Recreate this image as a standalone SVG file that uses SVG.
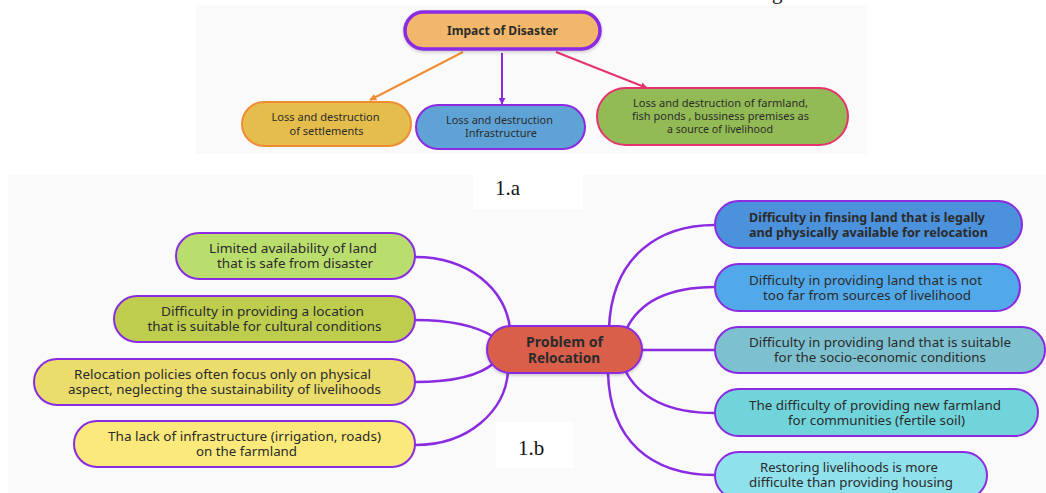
<svg xmlns="http://www.w3.org/2000/svg" width="1046" height="493" viewBox="0 0 1046 493">
<defs>
<style>
.t{font-family:"Noto Sans","Open Sans","Liberation Sans",sans-serif;font-size:12px;fill:#2b2b2b;text-anchor:middle}
.ts{font-family:"Noto Sans","Open Sans","Liberation Sans",sans-serif;font-size:11.5px;fill:#2b2b2b;text-anchor:middle}
.b{font-weight:bold}
.lab{font-family:"Liberation Serif","Times New Roman",serif;font-size:21px;fill:#111}
.n{stroke:#8a2be2;stroke-width:2}
.c{fill:none;stroke:#8a2be2;stroke-width:2.5;stroke-linecap:round}
</style>
<marker id="ao" viewBox="0 0 10 10" refX="9" refY="5" markerWidth="7" markerHeight="7" orient="auto" markerUnits="userSpaceOnUse"><path d="M0,0 L10,5 L0,10 z" fill="#f08c33"/></marker>
<marker id="ap" viewBox="0 0 10 10" refX="9" refY="5" markerWidth="7" markerHeight="7" orient="auto" markerUnits="userSpaceOnUse"><path d="M0,0 L10,5 L0,10 z" fill="#8a2be2"/></marker>
<marker id="ar" viewBox="0 0 10 10" refX="9" refY="5" markerWidth="7" markerHeight="7" orient="auto" markerUnits="userSpaceOnUse"><path d="M0,0 L10,5 L0,10 z" fill="#e6336e"/></marker>
<filter id="sh" x="-10%" y="-20%" width="120%" height="150%"><feDropShadow dx="0" dy="1.5" stdDeviation="1.5" flood-color="#000" flood-opacity="0.2"/></filter>
</defs>
<rect width="1046" height="493" fill="#ffffff"/>
<text class="lab" x="772" y="-1">g</text>
<rect x="196" y="5" width="671" height="149" fill="#fafafa"/>
<rect x="8" y="175" width="1038" height="318" fill="#fafafa"/>
<rect x="473" y="175" width="110" height="34" fill="#ffffff"/>
<text class="lab" x="495" y="195">1.a</text>
<rect x="496" y="422" width="77" height="46" fill="#ffffff"/>
<text class="lab" x="518" y="455">1.b</text>

<g id="connectors">
<line x1="463" y1="52" x2="370" y2="100" stroke="#f08c33" stroke-width="2" marker-end="url(#ao)"/>
<line x1="502" y1="53" x2="502" y2="104" stroke="#8a2be2" stroke-width="2" marker-end="url(#ap)"/>
<line x1="556" y1="52" x2="647" y2="88" stroke="#e6336e" stroke-width="2" marker-end="url(#ar)"/>
<path class="c" d="M415,257 C470,257 505,290 510,328"/>
<path class="c" d="M415,320 C450,320 475,325 494,337"/>
<path class="c" d="M415,382 C450,382 478,377 494,363"/>
<path class="c" d="M415,445 C470,445 505,410 508,372"/>
<path class="c" d="M609,328 C612,255 660,225 715,225"/>
<path class="c" d="M626,330 C640,300 670,287 715,287"/>
<path class="c" d="M640,350 L715,350"/>
<path class="c" d="M625,370 C640,400 670,413 715,413"/>
<path class="c" d="M608,373 C610,440 650,475 715,475"/>
</g>

<g id="impact">
<rect x="405" y="12" width="195" height="37" rx="18.5" fill="#f2b76b" stroke="#8a2be2" stroke-width="3.5" filter="url(#sh)"/>
<text class="ts b" x="502.5" y="34.5" textLength="111" lengthAdjust="spacingAndGlyphs" style="font-size:12.5px">Impact of Disaster</text>
</g>
<g id="settlements">
<rect x="242" y="102" width="169" height="44" rx="22" fill="#e5bd4c" stroke="#f08c33" stroke-width="2"/>
<text class="ts" x="325.5" y="121" textLength="108" lengthAdjust="spacingAndGlyphs">Loss and destruction</text>
<text class="ts" x="326.5" y="134.5" textLength="74" lengthAdjust="spacingAndGlyphs">of settlements</text>
</g>
<g id="infrastructure">
<rect x="416" y="105" width="169" height="44" rx="22" fill="#5fa3d6" stroke="#8a2be2" stroke-width="2"/>
<text class="ts" x="499.5" y="123.5" textLength="107" lengthAdjust="spacingAndGlyphs">Loss and destruction</text>
<text class="ts" x="501" y="137" textLength="72" lengthAdjust="spacingAndGlyphs">Infrastructure</text>
</g>
<g id="farmland">
<rect x="597" y="88" width="251" height="57" rx="28.5" fill="#92bb55" stroke="#e6336e" stroke-width="2"/>
<text class="ts" x="720.5" y="107" textLength="175" lengthAdjust="spacingAndGlyphs">Loss and destruction of farmland,</text>
<text class="ts" x="720.5" y="120.3" textLength="177" lengthAdjust="spacingAndGlyphs">fish ponds , bussiness premises as</text>
<text class="ts" x="720" y="133" textLength="106" lengthAdjust="spacingAndGlyphs">a source of livelihood</text>
</g>

<g id="center">
<rect x="487" y="326" width="155" height="47" rx="23.5" fill="#d95f4c" class="n" filter="url(#sh)"/>
<text class="t b" x="564.5" y="347" textLength="77" lengthAdjust="spacingAndGlyphs" style="font-size:13.5px">Problem of</text>
<text class="t b" x="564" y="363" textLength="72" lengthAdjust="spacingAndGlyphs" style="font-size:13.5px">Relocation</text>
</g>

<g id="left1">
<rect x="176" y="233" width="239" height="46" rx="23" fill="#bade6e" class="n"/>
<text class="t" x="293" y="253" textLength="168" lengthAdjust="spacingAndGlyphs">Limited availability of land</text>
<text class="t" x="295" y="268" textLength="156" lengthAdjust="spacingAndGlyphs">that is safe from disaster</text>
</g>
<g id="left2">
<rect x="114" y="296" width="301" height="46" rx="23" fill="#bfcd4f" class="n"/>
<text class="t" x="262.5" y="315.5" textLength="203" lengthAdjust="spacingAndGlyphs">Difficulty in providing a location</text>
<text class="t" x="264.5" y="330.5" textLength="234" lengthAdjust="spacingAndGlyphs">that is suitable for cultural conditions</text>
</g>
<g id="left3">
<rect x="34" y="359" width="381" height="46" rx="23" fill="#ebdd6b" class="n"/>
<text class="t" x="222.5" y="378.5" textLength="297" lengthAdjust="spacingAndGlyphs">Relocation policies often focus only on physical</text>
<text class="t" x="224.5" y="393.5" textLength="313" lengthAdjust="spacingAndGlyphs">aspect, neglecting the sustainability of livelihoods</text>
</g>
<g id="left4">
<rect x="74" y="421" width="341" height="46" rx="23" fill="#fbea7b" class="n"/>
<text class="t" x="244.5" y="441" textLength="273" lengthAdjust="spacingAndGlyphs">Tha lack of infrastructure (irrigation, roads)</text>
<text class="t" x="246.5" y="456" textLength="101" lengthAdjust="spacingAndGlyphs">on the farmland</text>
</g>

<g id="right1">
<rect x="715" y="201" width="307" height="47" rx="23.5" fill="#4c91dc" class="n"/>
<text class="t b" x="867" y="221.5" textLength="236" lengthAdjust="spacingAndGlyphs">Difficulty in finsing land that is legally</text>
<text class="t b" x="868.5" y="236.5" textLength="239" lengthAdjust="spacingAndGlyphs">and physically available for relocation</text>
</g>
<g id="right2">
<rect x="715" y="264" width="305" height="47" rx="23.5" fill="#52a9ea" class="n"/>
<text class="t" x="865.5" y="284.5" textLength="233" lengthAdjust="spacingAndGlyphs">Difficulty in providing land that is not</text>
<text class="t" x="867" y="299.5" textLength="208" lengthAdjust="spacingAndGlyphs">too far from sources of livelihood</text>
</g>
<g id="right3">
<rect x="715" y="327" width="330" height="46" rx="23" fill="#7dc1d0" class="n"/>
<text class="t" x="880" y="347" textLength="262" lengthAdjust="spacingAndGlyphs">Difficulty in providing land that is suitable</text>
<text class="t" x="880" y="362" textLength="212" lengthAdjust="spacingAndGlyphs">for the socio-economic conditions</text>
</g>
<g id="right4">
<rect x="715" y="389" width="323" height="47" rx="23.5" fill="#72d4db" class="n"/>
<text class="t" x="875" y="409.5" textLength="252" lengthAdjust="spacingAndGlyphs">The difficulty of providing new farmland</text>
<text class="t" x="876.5" y="424.5" textLength="177" lengthAdjust="spacingAndGlyphs">for communities (fertile soil)</text>
</g>
<g id="right5">
<rect x="715" y="452" width="272" height="47" rx="23.5" fill="#8fe1eb" class="n"/>
<text class="t" x="849" y="472" textLength="178" lengthAdjust="spacingAndGlyphs">Restoring livelihoods is more</text>
<text class="t" x="851" y="487" textLength="204" lengthAdjust="spacingAndGlyphs">difficulte than providing housing</text>
</g>
</svg>
